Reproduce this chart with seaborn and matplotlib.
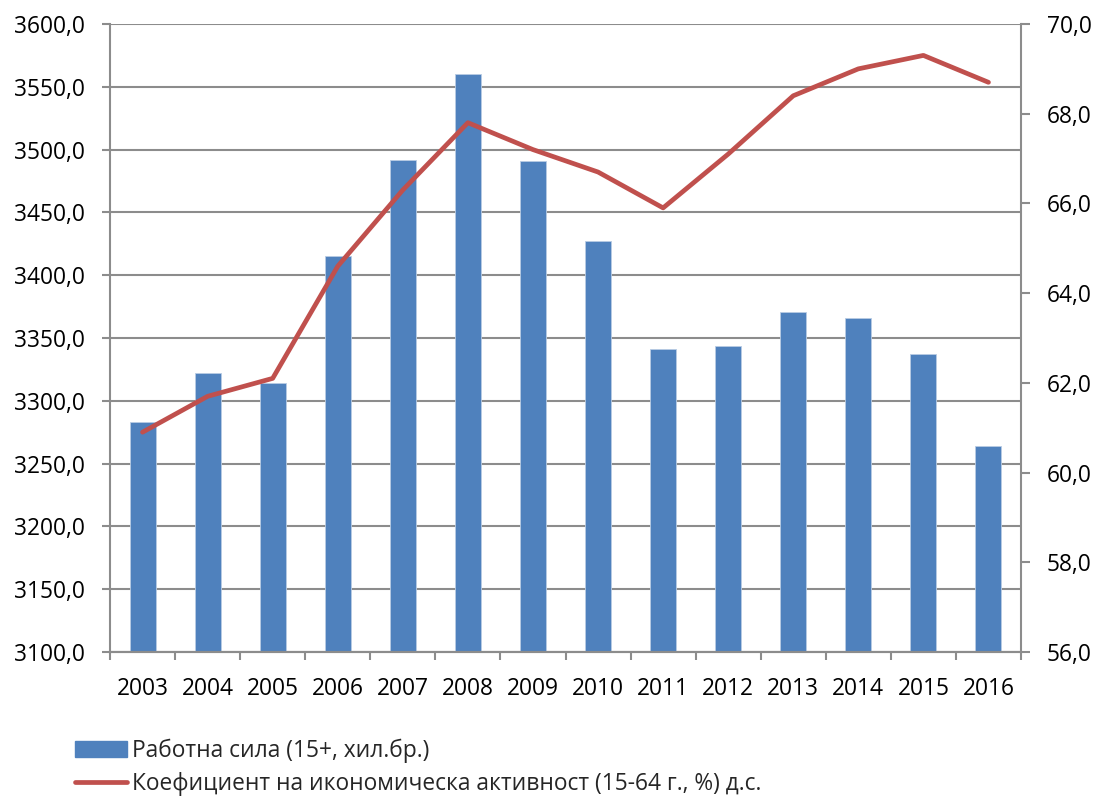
import numpy as np
import pandas as pd
import matplotlib
matplotlib.use("Agg")
import matplotlib.pyplot as plt
import seaborn as sns
from matplotlib.ticker import FuncFormatter, FixedLocator
from matplotlib.patches import Patch
from matplotlib.lines import Line2D

years = ["2003", "2004", "2005", "2006", "2007", "2008", "2009",
         "2010", "2011", "2012", "2013", "2014", "2015", "2016"]
labour_force = [3283, 3322, 3314, 3415, 3492, 3560, 3491,
                3427, 3341, 3344, 3371, 3366, 3337, 3264]
activity_rate = [60.9, 61.7, 62.1, 64.6, 66.3, 67.8, 67.2,
                 66.7, 65.9, 67.1, 68.4, 69.0, 69.3, 68.7]
bar_label = "Работна сила (15+, хил.бр.)"
line_label = "Коефициент на икономическа активност (15-64 г., %) д.с."

sns.set_theme(style="white")
plt.rcParams['font.family'] = ['Open Sans', 'DejaVu Sans']

BLUE = "#4F81BD"
RED = "#C0504D"
GRID = "#8C8C8C"
FS = 16.4

df = pd.DataFrame({"year": years, "lf": labour_force, "rate": activity_rate})

fig = plt.figure(figsize=(10.97, 7.98), dpi=100)
L, R, T, B = 110 / 1097, 1021 / 1097, 1 - 24 / 798, 1 - 652 / 798
ax = fig.add_axes([L, B, R - L, T - B])

sns.barplot(data=df, x="year", y="lf", color=BLUE, width=0.4, ax=ax,
            saturation=1, edgecolor="#B8CCE4", linewidth=0.6)
ax.set_ylim(3100, 3600)
ax.set_xlim(-0.5, len(years) - 0.5)
ax.set_yticks(np.arange(3100, 3601, 50))
fmt = FuncFormatter(lambda v, p: f"{v:.1f}".replace(".", ","))
ax.yaxis.set_major_formatter(fmt)
ax.grid(axis="y", color=GRID, linewidth=1.5)
ax.set_axisbelow(True)
ax.set_xlabel("")
ax.set_ylabel("")

ax2 = ax.twinx()
sns.lineplot(x=np.arange(len(years)), y=df["rate"], color=RED, linewidth=3.4,
             ax=ax2, legend=False)
ax2.set_ylim(56, 70)
ax2.set_yticks(np.arange(56, 70.1, 2))
ax2.yaxis.set_major_formatter(fmt)
ax2.set_ylabel("")
ax2.grid(False)

for a in (ax, ax2):
    for s in a.spines.values():
        s.set_visible(False)
    a.spines["bottom"].set_visible(True)
    a.spines["bottom"].set_color(GRID)
    a.spines["bottom"].set_linewidth(1.5)
ax.spines["left"].set_visible(True)
ax.spines["left"].set_color(GRID)
ax.spines["left"].set_linewidth(1.5)
ax2.spines["right"].set_visible(True)
ax2.spines["right"].set_color(GRID)
ax2.spines["right"].set_linewidth(1.5)

ax.tick_params(axis="y", which="major", left=True, length=5.5, width=1.5,
               color=GRID, labelsize=FS, pad=12.5, labelcolor="black")
ax2.tick_params(axis="y", which="major", right=True, length=6.5, width=1.5,
                color=GRID, labelsize=FS, pad=12, labelcolor="black")
ax.tick_params(axis="x", which="major", bottom=False, length=0,
               labelsize=FS, pad=18, labelcolor="black")
ax.xaxis.set_minor_locator(FixedLocator(np.arange(-0.5, len(years), 1.0)))
ax.tick_params(axis="x", which="minor", bottom=True, length=6, width=1.5,
               color=GRID)
ax2.tick_params(axis="x", bottom=False, labelbottom=False)

handles = [Patch(facecolor=BLUE, edgecolor=BLUE, label=bar_label),
           Line2D([0], [0], color=RED, linewidth=3.4, label=line_label)]
fig.legend(handles=handles, loc="upper left", bbox_to_anchor=(0.0684, 0.074),
           frameon=False, fontsize=FS, handlelength=2.3, handleheight=0.68,
           handletextpad=0.2, labelspacing=0.38, borderaxespad=0,
           borderpad=0)

fig.savefig("out.png", dpi=100)
